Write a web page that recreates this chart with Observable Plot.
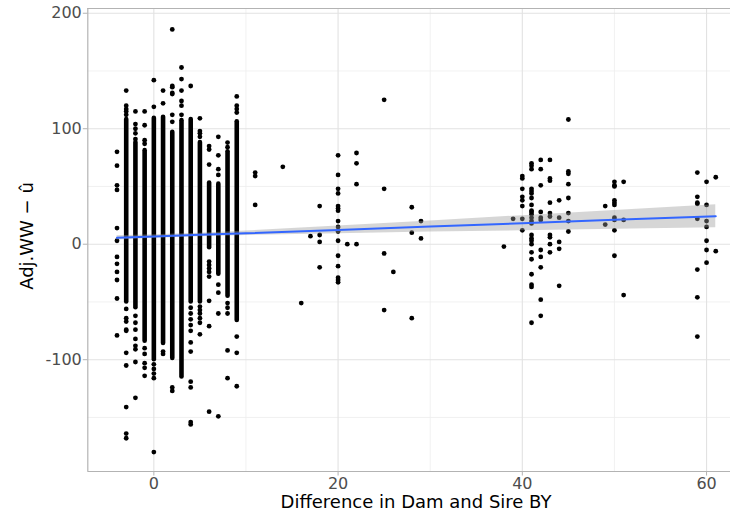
<!DOCTYPE html>
<html>
<head>
<meta charset="utf-8">
<script src="https://cdn.jsdelivr.net/npm/d3@7"></script>
<script src="https://cdn.jsdelivr.net/npm/@observablehq/plot@0.6"></script>
<style>
  body { margin: 0; background: #fff; }
  #chart svg { display: block; }
</style>
</head>
<body>
<div id="chart"></div>
<script>
// Difference in dam and sire birth year (years) for the crowded columns
const diffBY = [-4, -3, -2, -1, 0, 1, 2, 3, 4, 5, 6, 7, 8, 9];
// Continuous runs of overlapping records in each crowded column (lower, upper)
const runLow  = [null, -50, -55, -84, -100, -86, -99, -115, -50, -50, -3, -26, -45, -66];
const runHigh = [null, 108, 88, 81, 109, 110, 97, 107, 108, 88, 53, 52, 80, 106];
// Separate records above and below those runs
const crowdedExtra = [
  [80, 68, 51, 47, 14, 3, -11, -17, -24, -31, -47, -79],
  [133, 120, 117, 115, 112, -56, -64, -67, -74, -75, -94, -105, -141, -164, -168],
  [115, 104, 100, 96, 91, -62, -68, -74, -82, -88, -91, -102, -133],
  [115, 103, 90, 87, -90, -95, -103, -107, -114],
  [142, 119, -104, -108, -112, -116, -180],
  [133, 122, -93, -95],
  [186, 137, 136, 131, 130, 112, 106, -124, -127],
  [153, 143, 133, 124, 120, 112],
  [137, -55, -60, -65, -70, -75, -85, -93, -119, -124, -154, -156],
  [109, 98, 96, 93, -54, -57, -60, -64, -68, -78],
  [85, 82, 69, -15, -18, -21, -24, -28, -49, -71, -145],
  [93, 77, 65, 60, -35, -42, -60, -149],
  [88, 84, -51, -55, -60, -92, -116],
  [128, 120, 117, 114, -80, -94, -123]
];

// Wider birth-year gaps and their Adj.WW − û values
const wideBY = [11, 14, 16, 17, 18, 20, 21, 22, 25, 26, 28, 29, 38, 39, 40, 41, 42, 43, 44, 45, 49, 50, 51, 59, 60, 61];
const wideValues = [
  [62, 59, 34],
  [67],
  [-51],
  [7],
  [33, 8, 2, -20],
  [77, 60, 48, 44, 33, 31, 29, 20, 15, 11, 3, -10, -19, -29, -31, -33],
  [0],
  [79, 70, 52, 0],
  [125, 48, -8, -57],
  [-24],
  [32, 10, -64],
  [20, 5],
  [-2],
  [22],
  [59, 57, 48, 41, 38, 33, 22, 12],
  [70, 68, 65, 48, 46, 44, 40, 34, 29, 28, 26, 23, 20, 18, 8, 5, 3, 0, -7, -13, -26, -35, -37, -68],
  [73, 65, 51, 28, 23, 21, -5, -11, -20, -48, -62],
  [73, 57, 55, 36, 27, 24, 8, 6, 0, -7],
  [38, 23, 2, -4, -36],
  [108, 63, 61, 52, 40, 27, 20, 11],
  [33, 17],
  [54, 51, 50, 38, 36, 34, 23, 21, 12, -10],
  [54, 21, -44],
  [62, 41, 36, 35, 22, -22, -46, -80],
  [54, 34, 20, 15, 3, -5, -16],
  [58, -6]
];

// Linear fit with its 95% confidence band
const fitX    = [-4, 0, 5, 10, 20, 30, 40, 50, 61];
const fitMid  = [5.5, 6.65, 8.1, 9.5, 12.4, 15.3, 18.2, 21.1, 24.2];
const fitLow  = [3.6, 5.1, 6.5, 7.6, 9.1, 10.5, 11.7, 12.9, 14.2];
const fitHigh = [7.4, 8.2, 9.6, 11.5, 15.7, 20.1, 24.7, 29.2, 34.2];

// Axis breaks
const xTicks = [0, 20, 40, 60];
const yTicks = [-100, 0, 100, 200];
const xMinor = [10, 30, 50];
const yMinor = [-150, -50, 50, 150];

// Tables for the marks
const runs = diffBY.map((x, i) => ({x, lo: runLow[i], hi: runHigh[i]})).filter(d => d.lo != null);
const points = [
  ...diffBY.flatMap((x, i) => crowdedExtra[i].map(y => ({x, y}))),
  ...wideBY.flatMap((x, i) => wideValues[i].map(y => ({x, y})))
];
const fit = fitX.map((x, i) => ({x, mid: fitMid[i], lo: fitLow[i], hi: fitHigh[i]}));

const xDomain = [-7.17, 62.6];
const yDomain = [-196.8, 204.1];
const tickGray = "#b3b3b3";
const textGray = "#4d4d4d";

const chart = Plot.plot({
  width: 730,
  height: 512,
  marginLeft: 87.3,
  marginRight: 0,
  marginTop: 8,
  marginBottom: 41,
  style: {fontFamily: "'DejaVu Sans', sans-serif", fontSize: "16px", background: "#fff", overflow: "visible"},
  x: {domain: xDomain},
  y: {domain: yDomain},
  marks: [
    // minor grid
    Plot.ruleX(xMinor, {stroke: "#eeeeee", strokeWidth: 0.8}),
    Plot.ruleY(yMinor, {stroke: "#eeeeee", strokeWidth: 0.8}),
    // major grid
    Plot.ruleX(xTicks, {stroke: "#e2e2e2", strokeWidth: 1.1}),
    Plot.ruleY(yTicks, {stroke: "#e2e2e2", strokeWidth: 1.1}),
    // crowded columns drawn as stacked overlapping dots
    Plot.ruleX(runs, {x: "x", y1: "lo", y2: "hi", stroke: "#000", strokeWidth: 4.6, strokeLinecap: "round"}),
    Plot.dot(points, {x: "x", y: "y", r: 2.4, fill: "#000", stroke: "none"}),
    // confidence band and fitted line
    Plot.areaY(fit, {x: "x", y1: "lo", y2: "hi", fill: "#999999", fillOpacity: 0.4}),
    Plot.line(fit, {x: "x", y: "mid", stroke: "#3366FF", strokeWidth: 2}),
    // panel border (top, left, bottom)
    Plot.ruleY([yDomain[1]], {stroke: tickGray, strokeWidth: 1.2}),
    Plot.ruleY([yDomain[0]], {stroke: tickGray, strokeWidth: 1.2}),
    Plot.ruleX([xDomain[0]], {stroke: tickGray, strokeWidth: 1.2}),
    // axes
    Plot.axisX({ticks: xTicks, tickFormat: d => String(d), tickSize: 4.5, tickPadding: 1.5, stroke: tickGray, fill: textGray, label: null}),
    Plot.axisY({ticks: yTicks, tickFormat: d => String(d), tickSize: 4.5, tickPadding: 1.5, stroke: tickGray, fill: textGray, label: null})
  ]
});

const svg = d3.select(chart);
// axis titles
svg.append("text")
  .attr("x", 416).attr("y", 508)
  .attr("text-anchor", "middle")
  .attr("font-size", 18).attr("fill", "#000")
  .text("Difference in Dam and Sire BY");
svg.append("text")
  .attr("transform", "translate(33,236) rotate(-90)")
  .attr("text-anchor", "middle")
  .attr("font-size", 18).attr("fill", "#000")
  .text("Adj.WW − û");

document.getElementById("chart").appendChild(chart);
</script>
</body>
</html>
